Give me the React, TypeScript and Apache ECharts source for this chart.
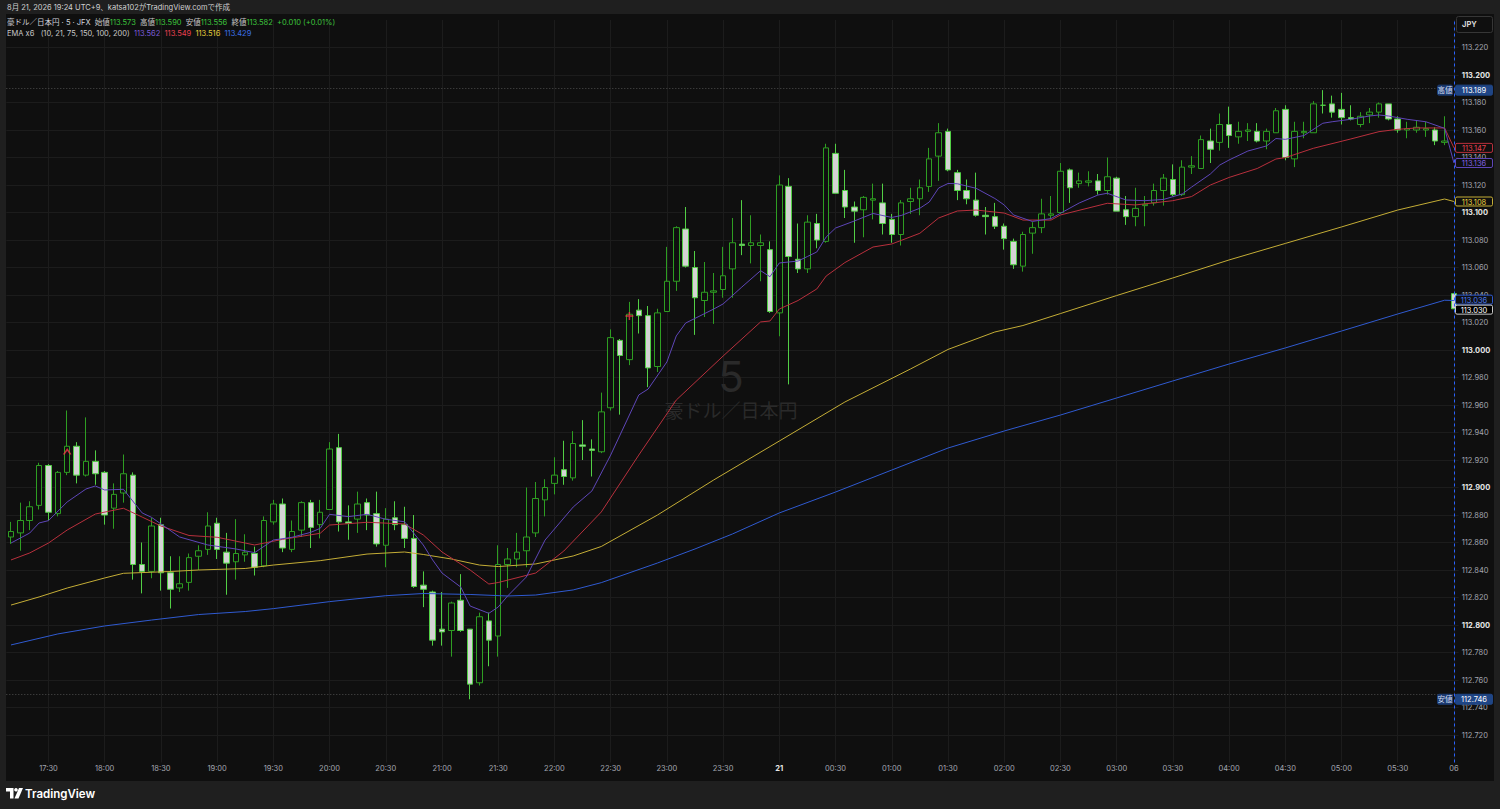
import React, { useEffect, useRef } from "react";
import * as echarts from "echarts";

// ---------- categories (5-minute bars, 17:10 -> 06:00) ----------
const times: string[] = [];
for (let i = 0; i < 155; i++) {
  const m = (17 * 60 + 10 + i * 5) % 1440;
  times.push(`${String(Math.floor(m / 60)).padStart(2, "0")}:${String(m % 60).padStart(2, "0")}`);
}

// ---------- OHLC ----------
const opens = [
  112.864, 112.867, 112.876, 112.887, 112.916, 112.881, 112.911, 112.930, 112.909, 112.919,
  112.911, 112.885, 112.896, 112.909, 112.844, 112.839, 112.873, 112.838, 112.827, 112.831,
  112.850, 112.855, 112.874, 112.853, 112.846, 112.851, 112.852, 112.843, 112.875, 112.888,
  112.855, 112.869, 112.889, 112.873, 112.884, 112.929, 112.875, 112.877, 112.889, 112.881,
  112.858, 112.878, 112.873, 112.863, 112.829, 112.824, 112.797, 112.796, 112.818, 112.797,
  112.758, 112.803, 112.792, 112.844, 112.848, 112.854, 112.867, 112.891, 112.903, 112.913,
  112.907, 112.931, 112.928, 112.926, 112.958, 113.007, 112.993, 113.029, 113.025, 112.988,
  113.028, 113.050, 113.088, 113.060, 113.036, 113.042, 113.044, 113.059, 113.077, 113.076,
  113.076, 113.073, 113.027, 113.119, 113.066, 113.059, 113.092, 113.079, 113.143, 113.116,
  113.104, 113.102, 113.109, 113.107, 113.095, 113.084, 113.108, 113.110, 113.119, 113.141,
  113.159, 113.129, 113.116, 113.109, 113.098, 113.097, 113.090, 113.079, 113.061, 113.085,
  113.089, 113.098, 113.100, 113.131, 113.121, 113.122, 113.123, 113.116, 113.125, 113.102,
  113.097, 113.105, 113.107, 113.116, 113.124, 113.113, 113.133, 113.132, 113.152, 113.151,
  113.164, 113.155, 113.159, 113.159, 113.152, 113.158, 113.175, 113.139, 113.158, 113.158,
  113.178, 113.179, 113.175, 113.169, 113.164, 113.171, 113.173, 113.179, 113.168, 113.160,
  113.160, 113.160, 113.160, 113.151, 113.041,
];
const highs = [
  112.875, 112.889, 112.890, 112.918, 112.917, 112.912, 112.956, 112.933, 112.951, 112.927,
  112.912, 112.903, 112.924, 112.911, 112.860, 112.878, 112.878, 112.850, 112.850, 112.852,
  112.858, 112.882, 112.878, 112.867, 112.877, 112.866, 112.857, 112.879, 112.891, 112.892,
  112.876, 112.890, 112.891, 112.891, 112.933, 112.939, 112.887, 112.897, 112.892, 112.897,
  112.885, 112.890, 112.886, 112.880, 112.839, 112.825, 112.824, 112.817, 112.837, 112.797,
  112.809, 112.809, 112.858, 112.856, 112.867, 112.900, 112.904, 112.906, 112.922, 112.934,
  112.941, 112.949, 112.935, 112.969, 113.015, 113.008, 113.035, 113.037, 113.032, 113.030,
  113.075, 113.090, 113.104, 113.072, 113.064, 113.056, 113.075, 113.096, 113.109, 113.098,
  113.084, 113.079, 113.127, 113.125, 113.092, 113.098, 113.099, 113.150, 113.150, 113.131,
  113.108, 113.112, 113.121, 113.121, 113.099, 113.109, 113.118, 113.124, 113.147, 113.165,
  113.161, 113.131, 113.124, 113.129, 113.104, 113.107, 113.092, 113.081, 113.086, 113.093,
  113.110, 113.112, 113.136, 113.132, 113.129, 113.130, 113.128, 113.140, 113.126, 113.112,
  113.118, 113.112, 113.121, 113.128, 113.135, 113.138, 113.141, 113.156, 113.161, 113.172,
  113.177, 113.166, 113.165, 113.165, 113.161, 113.176, 113.178, 113.166, 113.166, 113.181,
  113.189, 113.185, 113.187, 113.178, 113.173, 113.176, 113.180, 113.179, 113.170, 113.166,
  113.167, 113.166, 113.162, 113.170, 113.041,
];
const lows = [
  112.859, 112.854, 112.869, 112.884, 112.876, 112.879, 112.909, 112.903, 112.908, 112.902,
  112.873, 112.870, 112.889, 112.833, 112.823, 112.834, 112.825, 112.812, 112.824, 112.825,
  112.840, 112.851, 112.848, 112.822, 112.833, 112.846, 112.836, 112.842, 112.873, 112.853,
  112.853, 112.864, 112.856, 112.863, 112.884, 112.868, 112.862, 112.867, 112.869, 112.857,
  112.842, 112.869, 112.856, 112.827, 112.813, 112.785, 112.785, 112.777, 112.795, 112.746,
  112.756, 112.770, 112.777, 112.827, 112.842, 112.842, 112.864, 112.879, 112.895, 112.902,
  112.905, 112.920, 112.908, 112.925, 112.956, 112.953, 112.989, 113.012, 112.973, 112.984,
  113.028, 113.043, 113.060, 113.011, 113.024, 113.019, 113.038, 113.038, 113.069, 113.063,
  113.050, 113.027, 113.010, 112.975, 113.056, 113.056, 113.074, 113.078, 113.114, 113.096,
  113.078, 113.082, 113.095, 113.084, 113.078, 113.076, 113.099, 113.098, 113.115, 113.123,
  113.130, 113.109, 113.106, 113.097, 113.084, 113.088, 113.073, 113.059, 113.057, 113.070,
  113.085, 113.095, 113.099, 113.107, 113.118, 113.119, 113.113, 113.113, 113.101, 113.091,
  113.090, 113.090, 113.105, 113.105, 113.112, 113.112, 113.128, 113.132, 113.136, 113.145,
  113.147, 113.150, 113.152, 113.151, 113.146, 113.158, 113.138, 113.133, 113.154, 113.158,
  113.172, 113.169, 113.164, 113.167, 113.162, 113.165, 113.169, 113.167, 113.158, 113.154,
  113.158, 113.155, 113.149, 113.149, 113.030,
];
const closes = [
  112.868, 112.876, 112.886, 112.916, 112.882, 112.911, 112.930, 112.909, 112.919, 112.910,
  112.880, 112.895, 112.910, 112.844, 112.839, 112.872, 112.838, 112.826, 112.830, 112.849,
  112.854, 112.872, 112.855, 112.845, 112.852, 112.853, 112.842, 112.876, 112.888, 112.856,
  112.868, 112.889, 112.871, 112.882, 112.928, 112.875, 112.874, 112.888, 112.880, 112.859,
  112.877, 112.873, 112.863, 112.828, 112.826, 112.789, 112.795, 112.816, 112.796, 112.757,
  112.806, 112.789, 112.844, 112.848, 112.853, 112.864, 112.892, 112.900, 112.909, 112.908,
  112.932, 112.930, 112.927, 112.955, 113.009, 112.996, 113.026, 113.025, 112.987, 113.027,
  113.050, 113.089, 113.061, 113.038, 113.042, 113.043, 113.054, 113.078, 113.076, 113.078,
  113.078, 113.028, 113.120, 113.068, 113.059, 113.093, 113.080, 113.147, 113.114, 113.104,
  113.101, 113.111, 113.110, 113.092, 113.084, 113.107, 113.110, 113.118, 113.139, 113.158,
  113.131, 113.116, 113.110, 113.098, 113.097, 113.090, 113.081, 113.062, 113.084, 113.089,
  113.099, 113.099, 113.130, 113.118, 113.123, 113.123, 113.116, 113.126, 113.101, 113.097,
  113.103, 113.106, 113.116, 113.125, 113.113, 113.133, 113.134, 113.153, 113.146, 113.164,
  113.156, 113.159, 113.160, 113.152, 113.159, 113.174, 113.140, 113.159, 113.159, 113.179,
  113.178, 113.173, 113.169, 113.168, 113.170, 113.173, 113.179, 113.168, 113.160, 113.161,
  113.162, 113.161, 113.152, 113.152, 113.030,
];

// ---------- EMA lines: [bar index, value] ----------
const ema10 = [
  [0, 112.8596], [2, 112.8669], [3, 112.8742], [4, 112.8759], [6, 112.8895], [8, 112.8989], [9, 112.9011],
  [10, 112.8982], [12, 112.8987], [14, 112.8815], [15, 112.8783], [18, 112.864], [21, 112.8582], [24, 112.8553],
  [26, 112.8526], [28, 112.8618], [30, 112.8638], [32, 112.8674], [33, 112.8703], [34, 112.8805], [36, 112.8788],
  [38, 112.8805], [40, 112.8769], [42, 112.8751], [44, 112.8582], [45, 112.8473], [46, 112.8378], [48, 112.8276],
  [49, 112.8138], [51, 112.8085], [52, 112.8131], [53, 112.8211], [55, 112.8349], [57, 112.8618], [60, 112.8858],
  [62, 112.8975], [64, 112.9236], [67, 112.9673], [68, 112.9716], [70, 112.9913], [71, 113.0102], [72, 113.0196],
  [75, 113.0298], [76, 113.0335], [78, 113.0458], [80, 113.0577], [81, 113.0533], [82, 113.0633], [84, 113.0647],
  [85, 113.068], [86, 113.0713], [87, 113.0822], [88, 113.0887], [90, 113.0938], [92, 113.0993], [94, 113.0964],
  [95, 113.0978], [97, 113.1031], [98, 113.1076], [99, 113.1178], [100, 113.1211], [101, 113.1209], [103, 113.1176],
  [105, 113.1102], [106, 113.1055], [107, 113.0982], [109, 113.0935], [111, 113.0956], [112, 113.0994], [114, 113.1069],
  [116, 113.1127], [117, 113.114], [119, 113.1091], [121, 113.1086], [123, 113.1095], [125, 113.1135], [126, 113.1185],
  [128, 113.128], [129, 113.1345], [130, 113.1382], [132, 113.1447], [134, 113.1484], [135, 113.1538], [136, 113.1532],
  [138, 113.156], [140, 113.1649], [141, 113.166], [143, 113.1678], [145, 113.1702], [146, 113.1709], [147, 113.1702],
  [149, 113.1678], [151, 113.166], [153, 113.1612], [154, 113.136],
];
const ema21 = [
  [0, 112.8473], [2, 112.8524], [4, 112.8596], [6, 112.8691], [9, 112.8807], [12, 112.8849], [14, 112.8785],
  [16, 112.872], [19, 112.8651], [22, 112.8638], [25, 112.8596], [26, 112.8582], [29, 112.8623], [33, 112.8667],
  [34, 112.8727], [38, 112.8747], [42, 112.8735], [44, 112.8655], [46, 112.8531], [49, 112.84], [51, 112.8298],
  [52, 112.8309], [56, 112.8378], [59, 112.8538], [63, 112.8822], [67, 112.9236], [71, 112.9636], [76, 112.9956],
  [80, 113.0204], [81, 113.0211], [82, 113.0298], [84, 113.036], [86, 113.0444], [87, 113.0538], [89, 113.0636],
  [92, 113.0749], [94, 113.0771], [97, 113.0849], [99, 113.096], [101, 113.1011], [103, 113.1018], [106, 113.0996],
  [108, 113.0945], [111, 113.0945], [112, 113.0982], [117, 113.1067], [120, 113.1055], [124, 113.1086], [126, 113.1116],
  [128, 113.12], [130, 113.1255], [133, 113.132], [135, 113.1389], [136, 113.1399], [139, 113.1467], [143, 113.1535],
  [146, 113.1588], [148, 113.1605], [150, 113.1615], [153, 113.1615], [154, 113.147],
];
const ema75 = [
  [0, 112.8145], [3, 112.8204], [6, 112.8269], [10, 112.8342], [12, 112.8376], [17, 112.8389], [20, 112.84],
  [25, 112.8411], [28, 112.8436], [33, 112.8468], [38, 112.8516], [42, 112.8531], [44, 112.8513], [47, 112.848],
  [50, 112.8436], [52, 112.8425], [56, 112.8444], [60, 112.8502], [63, 112.8571], [69, 112.88], [75, 112.9055],
  [82, 112.9338], [89, 112.9622], [96, 112.9862], [100, 113.0004], [105, 113.0131], [108, 113.0178], [112, 113.0265],
  [118, 113.0396], [124, 113.0524], [130, 113.0655], [136, 113.0775], [142, 113.0895], [148, 113.1018], [153, 113.1098],
  [154, 113.108],
];
const ema150 = [
  [0, 112.7855], [5, 112.7935], [10, 112.7993], [15, 112.8036], [20, 112.8076], [25, 112.8098], [28, 112.8119],
  [34, 112.817], [40, 112.8213], [44, 112.8229], [49, 112.8222], [53, 112.8211], [56, 112.8218], [60, 112.8255],
  [63, 112.8308], [69, 112.8451], [73, 112.8553], [77, 112.8662], [82, 112.8815], [88, 112.8967], [94, 112.9127],
  [100, 112.9287], [106, 112.9411], [112, 112.9527], [118, 112.9651], [124, 112.9775], [130, 112.9898], [136, 113.0015],
  [142, 113.0138], [148, 113.0262], [153, 113.0362], [154, 113.036],
];

// signal markers seen on the chart: [bar index, price]
const upMarks = [[6, 112.9258]];
const crossMarks = [[66, 113.0247]];

// header texts
const headerLine = "8月 21, 2026 19:24 UTC+9、katsa102がTradingView.comで作成";
const symbolTitle = "豪ドル／日本円 · 5 · JFX";
const ohlcNames = ["始値", "高値", "安値", "終値"];
const ohlcValues = ["113.573", "113.590", "113.556", "113.582"];
const changeText = "+0.010 (+0.01%)";
const emaTitle = "EMA x6";
const emaParams = "(10, 21, 75, 150, 100, 200)";
const emaHeaderValues = ["113.562", "113.549", "113.516", "113.429"];

const FONT = 'Inter, "Noto Sans CJK JP", "Noto Sans", sans-serif';
const C_PURPLE = "#5e46b8";
const C_RED = "#b8303d";
const C_YELLOW = "#c4ad36";
const C_BLUE = "#2f5ad0";

const isLabelTick = (_: number, v: string) => v.endsWith(":00") || v.endsWith(":30");

function buildOption() {
  const candles = times.map((_, i) => [opens[i], closes[i], lows[i], highs[i]]);
  const maxHigh = Math.max(...highs);
  const minLow = Math.min(...lows);
  const line = (data: number[][], color: string, z: number) => ({
    type: "line",
    data,
    showSymbol: false,
    symbol: "none",
    silent: true,
    z,
    lineStyle: { color, width: 1 },
  });
  return {
    animation: false,
    backgroundColor: "transparent",
    textStyle: { fontFamily: FONT },
    grid: { left: 6.3, right: 41.35, top: 20, bottom: 46.5, containLabel: false, outerBoundsMode: "none" },
    xAxis: {
      type: "category",
      data: times,
      boundaryGap: true,
      axisLine: { show: false },
      axisTick: { show: false },
      axisLabel: {
        interval: isLabelTick,
        margin: 2,
        color: "#a3a6af",
        fontSize: 7.5,
        fontFamily: FONT,
        formatter: (v: string) => (v === "00:00" ? "{d|21}" : v === "06:00" ? "06" : v),
        rich: { d: { fontWeight: "bold", color: "#e6e6e6", fontSize: 7.5, fontFamily: FONT } },
      },
      splitLine: { show: true, interval: isLabelTick, alignWithLabel: true, lineStyle: { color: "#1c1c1c", width: 1 } },
    },
    yAxis: {
      type: "value",
      position: "right",
      min: 112.7,
      max: 113.24,
      interval: 0.02,
      axisLine: { show: false },
      axisTick: { show: false },
      splitLine: { show: true, showMinLine: false, showMaxLine: false, lineStyle: { color: "#1c1c1c", width: 1 } },
      axisLabel: {
        showMinLabel: false,
        showMaxLabel: false,
        margin: 3,
        fontSize: 7.5,
        fontFamily: FONT,
        color: "#a3a6af",
        formatter: (v: number) => {
          const s = v.toFixed(3);
          const major = Math.abs(v * 10 - Math.round(v * 10)) < 1e-6;
          return major ? `{b|${s}}` : `{n|${s}}`;
        },
        rich: {
          b: { color: "#e6e6e6", fontWeight: "bold", fontSize: 7.5, fontFamily: FONT },
          n: { color: "#a3a6af", fontSize: 7.5, fontFamily: FONT },
        },
      },
    },
    series: [
      {
        type: "candlestick",
        data: candles,
        barWidth: 6,
        z: 3,
        itemStyle: {
          color: "#0f0f0f",
          color0: "#d4d4d4",
          borderColor: "#2e9e22",
          borderColor0: "#52cf45",
          borderWidth: 1,
        },
        markLine: {
          silent: true,
          symbol: ["none", "none"],
          label: { show: false },
          data: [
            { yAxis: maxHigh, lineStyle: { color: "#4e4e4e", type: [1, 2], width: 1 } },
            { yAxis: minLow, lineStyle: { color: "#4e4e4e", type: [1, 2], width: 1 } },
            { xAxis: times[times.length - 1], lineStyle: { color: "#2962ff", type: [3, 3], width: 1 } },
          ],
        },
      },
      line(ema150, C_BLUE, 4),
      line(ema75, C_YELLOW, 4),
      line(ema21, C_RED, 4),
      line(ema10, C_PURPLE, 4),
      {
        type: "scatter",
        data: upMarks,
        symbol: "path://M0,6 L4,0 L8,6",
        symbolSize: [7, 5],
        z: 6,
        silent: true,
        itemStyle: { color: "none", borderColor: "#f23645", borderWidth: 1.5 },
      },
      {
        type: "scatter",
        data: crossMarks,
        symbol: "path://M4,0 L4,8 M0,4 L8,4",
        symbolSize: [8, 8],
        z: 6,
        silent: true,
        itemStyle: { color: "none", borderColor: "#f23645", borderWidth: 1.5 },
      },
    ],
  };
}

function txt(x: number, y: number, text: string, extra: any = {}, z = 100) {
  return {
    type: "text",
    x,
    y,
    z,
    silent: true,
    style: {
      text,
      fill: "#d1d4dc",
      fontSize: 7.5,
      fontFamily: FONT,
      align: "left",
      verticalAlign: "middle",
      textAlign: "left",
      textVerticalAlign: "middle",
      ...extra,
    },
  };
}

function box(x: number, yc: number, w: number, h: number, fill: string, stroke: string | null, text: string, color: string) {
  return {
    type: "group",
    z: 100,
    children: [
      {
        type: "rect",
        z: 100,
        silent: true,
        shape: { x, y: yc - h / 2, width: w, height: h, r: 1.5 },
        style: { fill, stroke: stroke || fill, lineWidth: 1 },
      },
      {
        type: "text",
        z: 101,
        silent: true,
        x: x + w / 2,
        y: yc + 0.5,
        style: {
          text,
          fill: color,
          fontSize: 7.5,
          fontFamily: FONT,
          align: "center",
          verticalAlign: "middle",
          textAlign: "center",
          textVerticalAlign: "middle",
        },
      },
    ],
  };
}

function buildGraphics(chart: any) {
  const py = (v: number) => chart.convertToPixel({ yAxisIndex: 0 }, v) as number;
  const maxHigh = Math.max(...highs);
  const minLow = Math.min(...lows);
  const lastClose = closes[closes.length - 1];
  const last = (a: number[][]) => a[a.length - 1][1];

  const priceTags = [
    { v: last(ema21), text: last(ema21).toFixed(3), color: "#e8404f", stroke: "#b8303d", fill: "#0f0f0f" },
    { v: last(ema10), text: last(ema10).toFixed(3), color: "#8060e0", stroke: "#5e46b8", fill: "#0f0f0f" },
    { v: last(ema75), text: last(ema75).toFixed(3), color: "#e8cf3e", stroke: "#c4ad36", fill: "#0f0f0f" },
    { v: last(ema150), text: last(ema150).toFixed(3), color: "#4a7af0", stroke: "#2f5ad0", fill: "#0f0f0f" },
    { v: lastClose, text: lastClose.toFixed(3), color: "#ffffff", stroke: "#c8c8c8", fill: "#000000" },
  ].map((t) => ({ ...t, y: py(t.v) }));
  priceTags.sort((a, b) => a.y - b.y);
  const H = 10;
  for (let k = 1; k < priceTags.length; k++) {
    const gap = priceTags[k].y - priceTags[k - 1].y;
    if (gap < H) {
      const push = (H - gap) / 2;
      priceTags[k - 1].y -= push;
      priceTags[k].y += push;
    }
  }

  const yHigh = py(maxHigh);
  const yLow = py(minLow);

  const g: any[] = [];
  // watermark
  g.push({
    type: "text", x: 731, y: 376, z: 1, silent: true,
    style: { text: "5", fill: "#2a2a2a", fontSize: 42, fontFamily: FONT, align: "center", verticalAlign: "middle", textAlign: "center", textVerticalAlign: "middle" },
  });
  g.push({
    type: "text", x: 731, y: 411, z: 1, silent: true,
    style: { text: "豪ドル／日本円", fill: "#2a2a2a", fontSize: 19, fontFamily: FONT, align: "center", verticalAlign: "middle", textAlign: "center", textVerticalAlign: "middle" },
  });

  // top line
  g.push(txt(7, 7.5, headerLine, { fill: "#d0d0d0" }));
  // legend line 1
  const ohlcRich = ohlcNames.map((n, i) => `{l|${n}}{g|${ohlcValues[i]}}`).join("  ");
  g.push(
    txt(7, 22.5, `{t|${symbolTitle}}  ${ohlcRich}  {g|${changeText}}`, {
      rich: {
        t: { fill: "#d1d4dc", fontSize: 7.5, fontFamily: FONT },
        l: { fill: "#c8c8c8", fontSize: 7.5, fontFamily: FONT },
        g: { fill: "#3cc43c", fontSize: 7.5, fontFamily: FONT },
      },
    })
  );
  // legend line 2
  g.push(
    txt(
      7,
      33.5,
      `{t|${emaTitle}}   {t|${emaParams}}  {p|${emaHeaderValues[0]}}  {r|${emaHeaderValues[1]}}  {y|${emaHeaderValues[2]}}  {b|${emaHeaderValues[3]}}`,
      {
        rich: {
          t: { fill: "#c8c8c8", fontSize: 7.5, fontFamily: FONT },
          p: { fill: "#7b5bd6", fontSize: 7.5, fontFamily: FONT },
          r: { fill: "#e8404f", fontSize: 7.5, fontFamily: FONT },
          y: { fill: "#e6cc3c", fontSize: 7.5, fontFamily: FONT },
          b: { fill: "#3b6fe8", fontSize: 7.5, fontFamily: FONT },
        },
      }
    )
  );

  // JPY button
  g.push({
    type: "rect", z: 100, silent: true,
    shape: { x: 1456.5, y: 16.5, width: 36, height: 16, r: 2 },
    style: { fill: "#0f0f0f", stroke: "#363636", lineWidth: 1 },
  });
  g.push(txt(1462, 24.8, "JPY", { fill: "#d8d8d8", fontWeight: "bold" }));

  // high / low tags
  g.push(box(1437.5, yHigh, 15, H, "#1b3a70", null, "高値", "#d6def0"));
  g.push(box(1455.5, yHigh, 37, H, "#1f4585", null, maxHigh.toFixed(3), "#ffffff"));
  g.push(box(1437.5, yLow, 15, H, "#1b3a70", null, "安値", "#d6def0"));
  g.push(box(1455.5, yLow, 37, H, "#1f4585", null, minLow.toFixed(3), "#ffffff"));

  // EMA / close price tags
  priceTags.forEach((t) => g.push(box(1455.5, t.y, 37, H - 1, t.fill, t.stroke, t.text, t.color)));

  // footer logo
  g.push({
    type: "polygon", z: 100, silent: true,
    shape: { points: [[6, 788], [13.5, 788], [13.5, 798.5], [10, 798.5], [10, 791.5], [6, 791.5]] },
    style: { fill: "#ffffff" },
  });
  g.push({ type: "circle", z: 100, silent: true, shape: { cx: 16, cy: 789.8, r: 1.8 }, style: { fill: "#ffffff" } });
  g.push({
    type: "polygon", z: 100, silent: true,
    shape: { points: [[19, 788], [23, 788], [18.5, 798.5], [14.5, 798.5]] },
    style: { fill: "#ffffff" },
  });
  g.push(txt(25, 793.5, "TradingView", { fill: "#ffffff", fontSize: 11.5, fontWeight: 600 }));
  return g;
}

export default function App() {
  const ref = useRef<HTMLDivElement>(null);
  useEffect(() => {
    if (!ref.current) return;
    const chart = echarts.init(ref.current, null, { renderer: "svg" });
    chart.setOption(buildOption() as any);
    chart.setOption({ graphic: buildGraphics(chart) } as any);
    return () => chart.dispose();
  }, []);
  return (
    <div style={{ position: "fixed", left: 0, top: 0, width: 1500, height: 809, background: "#1f1f1f", overflow: "hidden" }}>
      <div style={{ position: "absolute", left: 6, top: 14, width: 1488, height: 767, background: "#0f0f0f" }} />
      <div ref={ref} style={{ position: "absolute", left: 0, top: 0, width: 1500, height: 809 }} />
    </div>
  );
}
